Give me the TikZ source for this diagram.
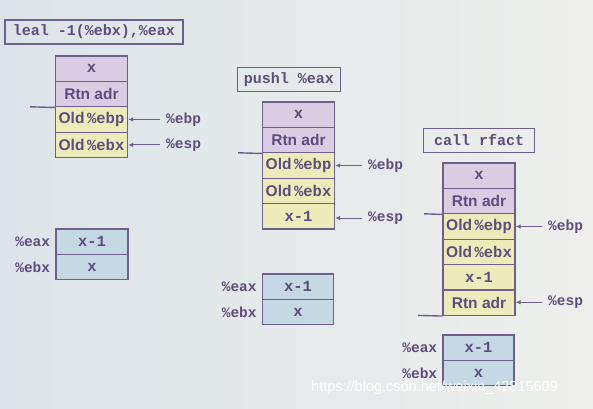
\documentclass[tikz,border=0pt]{standalone}
\usepackage{fontspec}
\setmainfont{Liberation Sans}
\setmonofont{Liberation Mono}
\usetikzlibrary{arrows.meta}
\definecolor{bord}{HTML}{6E5F8E}
\definecolor{txt}{HTML}{5E4C7E}
\definecolor{purp}{HTML}{D9CDE4}
\definecolor{yell}{HTML}{ECEBBA}
\definecolor{blu}{HTML}{C5D9E4}
\definecolor{bgl}{HTML}{DDE4E9}
\definecolor{bgr}{HTML}{EEEFEC}
\newcommand{\rg}[1]{{\ttfamily\bfseries #1}}
\tikzset{
  cell/.style={draw=bord, line width=1.3pt, minimum width=72pt, minimum height=25.4pt,
    inner sep=0pt, text=txt, font=\fontsize{15.5}{15}\selectfont\bfseries},
  pcell/.style={cell, fill=purp},
  ycell/.style={cell, fill=yell},
  bcell/.style={cell, fill=blu},
  ttl/.style={draw=bord, line width=1.5pt, text=txt, inner sep=0pt,
    font=\fontsize{15}{15}\selectfont\ttfamily\bfseries},
  lbl/.style={text=txt, inner sep=1pt, font=\fontsize{14.5}{14}\selectfont\ttfamily\bfseries},
  ptr/.style={draw=bord, line width=1pt, -{Latex[length=5pt,width=4.5pt]}},
  frm/.style={draw=bord, line width=1.4pt}
}
\begin{document}
\begin{tikzpicture}[x=1pt,y=-1pt]
\useasboundingbox (0,0) rectangle (593,408);
\fill[left color=bgl, right color=bgr] (0,0) rectangle (593,408);

% ---------- panel 1 ----------
\node[ttl, minimum width=178pt, minimum height=24pt] (t1) at (94,32) {leal -1(\%ebx),\%eax};
\node[pcell] (p1a) at (91.5,68.7) {\rg{x}};
\node[pcell] (p1b) at (91.5,94.1) {Rtn adr};
\node[ycell] (p1c) at (91.5,119.5) {Old\,\rg{\%ebp}};
\node[ycell] (p1d) at (91.5,144.9) {Old\,\rg{\%ebx}};
\coordinate (f1) at (30,106.8);
\draw[frm] (f1) -- (p1b.south west);
\node[lbl, anchor=west] (e1) at (165,119.5) {\%ebp};
\node[lbl, anchor=west] (s1) at (165,144.9) {\%esp};
\draw[ptr] ([xshift=-5pt]e1.west) -- (p1c.east);
\draw[ptr] ([xshift=-5pt]s1.west) -- (p1d.east);
\node[bcell] (r1a) at (92,241.7) {\rg{x-1}};
\node[bcell] (r1b) at (92,267.1) {\rg{x}};
\node[lbl, anchor=east] (ra1) at ([xshift=-4pt]r1a.west) {\%eax};
\node[lbl, anchor=east] (rb1) at ([xshift=-4pt]r1b.west) {\%ebx};

% ---------- panel 2 ----------
\node[ttl, minimum width=103pt, minimum height=24pt] (t2) at (289,79.5) {pushl \%eax};
\node[pcell] (p2a) at (298.5,114.7) {\rg{x}};
\node[pcell] (p2b) at (298.5,140.1) {Rtn adr};
\node[ycell] (p2c) at (298.5,165.5) {Old\,\rg{\%ebp}};
\node[ycell] (p2d) at (298.5,190.9) {Old\,\rg{\%ebx}};
\node[ycell] (p2e) at (298.5,216.3) {\rg{x-1}};
\coordinate (f2) at (238,152.8);
\draw[frm] (f2) -- (p2b.south west);
\node[lbl, anchor=west] (e2) at (367,165.5) {\%ebp};
\node[lbl, anchor=west] (s2) at (367,218) {\%esp};
\draw[ptr] ([xshift=-5pt]e2.west) -- (p2c.east);
\draw[ptr] ([xshift=-5pt]s2.west) -- (p2e.east |- s2.west);
\node[bcell, minimum width=71pt] (r2a) at (298,286.7) {\rg{x-1}};
\node[bcell, minimum width=71pt] (r2b) at (298,312.1) {\rg{x}};
\node[lbl, anchor=east] (ra2) at ([xshift=-4pt]r2a.west) {\%eax};
\node[lbl, anchor=east] (rb2) at ([xshift=-4pt]r2b.west) {\%ebx};

% ---------- panel 3 ----------
\node[ttl, minimum width=111pt, minimum height=24pt] (t3) at (479,140.5) {call rfact};
\node[pcell] (p3a) at (479,175.7) {\rg{x}};
\node[pcell] (p3b) at (479,201.1) {Rtn adr};
\node[ycell] (p3c) at (479,226.5) {Old\,\rg{\%ebp}};
\node[ycell] (p3d) at (479,251.9) {Old\,\rg{\%ebx}};
\node[ycell] (p3e) at (479,277.3) {\rg{x-1}};
\node[ycell] (p3f) at (479,302.7) {Rtn adr};
\coordinate (f3) at (424,213.8);
\coordinate (f4) at (418,315.4);
\draw[frm] (f3) -- (p3b.south west);
\draw[frm] (f4) -- (p3f.south west);
\node[lbl, anchor=west] (e3) at (547,226.5) {\%ebp};
\node[lbl, anchor=west] (s3) at (547,302.2) {\%esp};
\draw[ptr] ([xshift=-5pt]e3.west) -- (p3c.east);
\draw[ptr] ([xshift=-5pt]s3.west) -- (p3f.east |- s3.west);
\node[bcell, minimum width=71pt] (r3a) at (478.5,347.7) {\rg{x-1}};
\node[bcell, minimum width=71pt] (r3b) at (478.5,373.1) {\rg{x}};
\node[lbl, anchor=east] (ra3) at ([xshift=-4pt]r3a.west) {\%eax};
\node[lbl, anchor=east] (rb3) at ([xshift=-4pt]r3b.west) {\%ebx};

% watermark
\node[anchor=west, text=white, inner sep=0pt, font=\fontsize{14.5}{15}\selectfont] (wm) at (311,388) {https://blog.csdn.net/weixin\_42815609};
\end{tikzpicture}
\end{document}
